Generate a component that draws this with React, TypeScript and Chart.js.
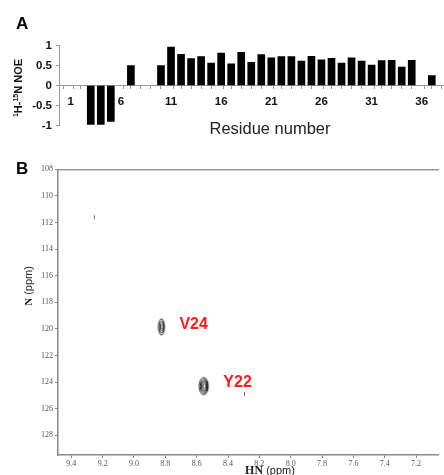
import React, { useEffect, useRef } from 'react';
import { Chart, registerables } from 'chart.js';
Chart.register(...registerables);

// ---------- Panel A data ----------
const residues = [1, 2, 3, 4, 5, 6, 7, 8, 9, 10, 11, 12, 13, 14, 15, 16, 17, 18, 19, 20, 21, 22, 23, 24, 25, 26, 27, 28, 29, 30, 31, 32, 33, 34, 35, 36, 37];
const noe = [null, null, -0.97, -0.97, -0.9, null, 0.5, null, null, 0.5, 0.96, 0.78, 0.67, 0.72, 0.56, 0.81, 0.54, 0.83, 0.58, 0.77, 0.69, 0.72, 0.72, 0.61, 0.73, 0.64, 0.68, 0.56, 0.69, 0.61, 0.51, 0.62, 0.63, 0.46, 0.63, null, 0.25];
const residueTickLabels = [1, 6, 11, 16, 21, 26, 31, 36];
const noeTicks = [-1, -0.5, 0, 0.5, 1];
const noeTickLabels = ['-1', '-0.5', '0', '0.5', '1'];

// ---------- Panel B data ----------
const hnTicks = [9.4, 9.2, 9.0, 8.8, 8.6, 8.4, 8.2, 8.0, 7.8, 7.6, 7.4, 7.2];
const nTicks = [108, 110, 112, 114, 116, 118, 120, 122, 124, 126, 128];
const peakHN = [8.825, 8.555, 9.253, 8.295];
const peakN = [119.85, 124.3, 111.6, 124.9];
const peakKind = ['big', 'big2', 'tiny', 'tiny'];
const labelNames = ['V24', 'Y22'];
const labelHN = [8.71, 8.43];
const labelN = [119.67, 124.0];

const SANS = '"Liberation Sans", Arial, sans-serif';
const SERIF = '"Liberation Serif", "Times New Roman", serif';

function contourGlyph(w: number, h: number, rings: number, color: string, lw: number) {
  const c = document.createElement('canvas');
  c.width = Math.ceil(w + 4);
  c.height = Math.ceil(h + 4);
  const g = c.getContext('2d')!;
  g.strokeStyle = color;
  g.lineWidth = lw;
  for (let k = 0; k < rings; k++) {
    const f = 1 - k / (rings + 0.5);
    g.beginPath();
    g.ellipse(c.width / 2 + k * 0.3, c.height / 2, Math.max(0.5, (w / 2) * f), Math.max(0.5, (h / 2) * f), 0, 0, Math.PI * 2);
    g.stroke();
  }
  return c;
}

function tinyGlyph() {
  const c = document.createElement('canvas');
  c.width = 3;
  c.height = 6;
  const g = c.getContext('2d')!;
  g.strokeStyle = '#777';
  g.lineWidth = 1;
  g.beginPath();
  g.moveTo(1.5, 1);
  g.lineTo(1.5, 5);
  g.stroke();
  return c;
}

export default function App() {
  const refA = useRef<HTMLCanvasElement>(null);
  const refB = useRef<HTMLCanvasElement>(null);

  useEffect(() => {
    const boundaries = [0.5].concat(residues.map((r) => r + 0.5));
    const xTickValues = boundaries.concat(residueTickLabels).sort((a, b) => a - b);

    const chartA = new Chart(refA.current!, {
      type: 'bar',
      data: {
        datasets: [
          {
            data: residues.map((r, i) => ({ x: r, y: noe[i] })) as any,
            backgroundColor: '#000',
            borderWidth: 0,
            barThickness: 7,
          },
        ],
      },
      options: {
        animation: false,
        responsive: false,
        maintainAspectRatio: false,
        layout: { padding: { top: 45.5, bottom: 14.5, left: 0, right: 0 } },
        plugins: { legend: { display: false }, tooltip: { enabled: false } },
        scales: {
          x: {
            type: 'linear',
            min: 0.25,
            max: 37.8,
            position: { y: 0 } as any,
            afterBuildTicks: (s: any) => {
              s.ticks = xTickValues.map((v) => ({ value: v }));
            },
            grid: {
              drawOnChartArea: false,
              drawTicks: true,
              tickLength: 3,
              tickColor: (ctx: any) => (ctx.tick && Number.isInteger(ctx.tick.value) ? 'rgba(0,0,0,0)' : '#999'),
            },
            border: { color: '#999', width: 1 },
            ticks: {
              autoSkip: false,
              maxRotation: 0,
              padding: 6,
              color: '#111',
              font: { family: SANS, size: 11.5, weight: 'bold' },
              callback: (v: any) => (residueTickLabels.includes(v) ? String(v) : ''),
            },
          },
          y: {
            min: -1,
            max: 1,
            afterBuildTicks: (s: any) => {
              s.ticks = noeTicks.map((v) => ({ value: v }));
            },
            afterFit: (s: any) => {
              s.width = 59;
            },
            grid: { drawOnChartArea: false, tickLength: 3, color: '#999' },
            border: { color: '#999', width: 1 },
            ticks: {
              padding: 4,
              color: '#111',
              font: { family: SANS, size: 11.5, weight: 'bold' },
              callback: (v: any) => {
                const i = noeTicks.indexOf(Number(v));
                return i >= 0 ? noeTickLabels[i] : '';
              },
            },
          },
        },
      },
    });

    const glyphs: any = {
      big: contourGlyph(6, 16, 3, '#111', 0.9),
      big2: contourGlyph(9, 17, 4, '#111', 1),
      tiny: tinyGlyph(),
    };

    const peakLabelPlugin = {
      id: 'peakLabels',
      afterDatasetsDraw(chart: any) {
        const { ctx, scales } = chart;
        ctx.save();
        ctx.font = `bold 16px ${SANS}`;
        ctx.fillStyle = '#ff1a1a';
        ctx.textAlign = 'left';
        ctx.textBaseline = 'middle';
        labelNames.forEach((t, i) => {
          ctx.fillText(t, scales.x.getPixelForValue(labelHN[i]), scales.y.getPixelForValue(labelN[i]));
        });
        ctx.restore();
      },
    };

    const chartB = new Chart(refB.current!, {
      type: 'scatter',
      data: {
        datasets: [
          {
            data: peakHN.map((x, i) => ({ x, y: peakN[i] })),
            pointStyle: peakKind.map((k) => glyphs[k]) as any,
            pointRadius: 5,
          },
        ],
      },
      options: {
        animation: false,
        responsive: false,
        maintainAspectRatio: false,
        layout: { padding: { top: 19.3, bottom: 0, left: 0, right: 0 } },
        plugins: { legend: { display: false }, tooltip: { enabled: false } },
        scales: {
          x: {
            type: 'linear',
            reverse: true,
            min: 7.06,
            max: 9.485,
            position: 'bottom',
            afterBuildTicks: (s: any) => {
              s.ticks = hnTicks.map((v) => ({ value: v }));
            },
            afterFit: (s: any) => {
              s.height = 20;
            },
            grid: { drawOnChartArea: false, tickLength: 3, color: '#888' },
            border: { color: '#888', width: 1.5 },
            ticks: {
              autoSkip: false,
              maxRotation: 0,
              padding: 1,
              color: '#555',
              font: { family: SERIF, size: 8 },
              callback: (v: any) => Number(v).toFixed(1),
            },
          },
          xTop: {
            type: 'linear',
            reverse: true,
            min: 7.06,
            max: 9.485,
            position: 'top',
            afterFit: (s: any) => {
              s.height = 0;
            },
            grid: { drawOnChartArea: false, drawTicks: false },
            border: { color: '#999', width: 1.5 },
            ticks: { display: false },
          },
          y: {
            type: 'linear',
            reverse: true,
            min: 108,
            max: 129.48,
            afterBuildTicks: (s: any) => {
              s.ticks = nTicks.map((v) => ({ value: v }));
            },
            afterFit: (s: any) => {
              s.width = 58;
            },
            grid: { drawOnChartArea: false, tickLength: 3, color: '#888' },
            border: { color: '#888', width: 1.5 },
            ticks: {
              padding: 2,
              color: '#555',
              font: { family: SERIF, size: 8 },
            },
          },
        },
      },
      plugins: [peakLabelPlugin],
    });

    return () => {
      chartA.destroy();
      chartB.destroy();
    };
  }, []);

  const abs = (style: React.CSSProperties): React.CSSProperties => ({ position: 'absolute', whiteSpace: 'nowrap', ...style });

  return (
    <div style={{ position: 'fixed', left: 0, top: 0, width: 444, height: 475, overflow: 'hidden', background: '#fff' }}>
      <canvas ref={refA} width={444} height={140} style={abs({ left: 0, top: 0, width: 444, height: 140 })} />
      <canvas ref={refB} width={444} height={325} style={abs({ left: 0, top: 150, width: 444, height: 325 })} />

      <div style={abs({ left: 16, top: 14, fontFamily: SANS, fontWeight: 'bold', fontSize: 17, lineHeight: '20px', color: '#000' })}>A</div>
      <div style={abs({ left: 16, top: 159, fontFamily: SANS, fontWeight: 'bold', fontSize: 17, lineHeight: '20px', color: '#000' })}>B</div>

      <div
        style={abs({
          left: 17,
          top: 88,
          transform: 'translate(-50%, -50%) rotate(-90deg)',
          fontFamily: SANS,
          fontWeight: 'bold',
          fontSize: 11,
          lineHeight: '12px',
          color: '#111',
        })}
      >
        <sup style={{ fontSize: 7 }}>1</sup>H-<sup style={{ fontSize: 7 }}>15</sup>N NOE
      </div>

      <div
        style={abs({
          left: 270,
          top: 128,
          transform: 'translate(-50%, -50%)',
          fontFamily: SANS,
          fontSize: 16.5,
          lineHeight: '18px',
          color: '#222',
        })}
      >
        Residue number
      </div>

      <div
        style={abs({
          left: 28,
          top: 286,
          transform: 'translate(-50%, -50%) rotate(-90deg)',
          fontSize: 11,
          lineHeight: '12px',
          color: '#222',
        })}
      >
        <span style={{ fontFamily: SERIF, fontWeight: 'bold' }}>N</span>
        <span style={{ fontFamily: SANS }}> (ppm)</span>
      </div>

      <div
        style={abs({
          left: 270,
          top: 470,
          transform: 'translate(-50%, -50%)',
          fontSize: 11,
          lineHeight: '12px',
          color: '#222',
        })}
      >
        <span style={{ fontFamily: SERIF, fontWeight: 'bold', fontSize: 12 }}>HN</span>
        <span style={{ fontFamily: SANS }}> (ppm)</span>
      </div>
    </div>
  );
}
